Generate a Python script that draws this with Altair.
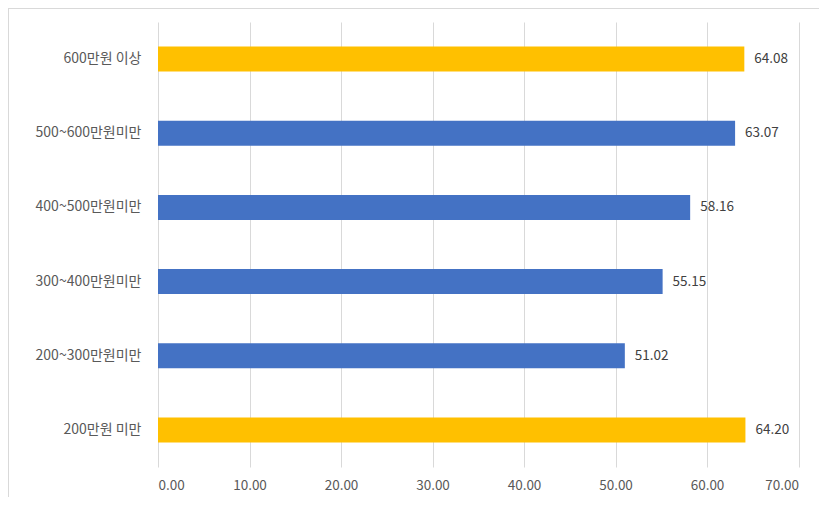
import altair as alt
import pandas as pd

categories = ["600만원 이상", "500~600만원미만", "400~500만원미만", "300~400만원미만", "200~300만원미만", "200만원 미만"]
values = [64.08, 63.07, 58.16, 55.15, 51.02, 64.20]
groups = ["edge", "mid", "mid", "mid", "mid", "edge"]

df = pd.DataFrame({"cat": categories, "val": values, "grp": groups})

FONT = "Noto Sans CJK KR"

y_scale = alt.Scale(domain=categories, paddingInner=0.66, paddingOuter=0.33)
x_scale = alt.Scale(domain=[0, 70], nice=False)

y_enc = alt.Y("cat:N", sort=categories, title=None, scale=y_scale,
              axis=alt.Axis(domain=False, ticks=False, labelPadding=17,
                            labelFont=FONT, labelFontSize=14, labelColor="#595959", grid=False))
x_enc = alt.X("val:Q", title=None, scale=x_scale,
              axis=alt.Axis(values=[0, 10, 20, 30, 40, 50, 60, 70], format=".2f",
                            domain=False, ticks=False, labelPadding=11,
                            labelFont=FONT, labelFontSize=13.5, labelColor="#595959",
                            grid=True, gridColor="#D9D9D9", gridWidth=1))

bars = alt.Chart(df).mark_bar(size=25).encode(
    x=x_enc, y=y_enc,
    color=alt.Color("grp:N", scale=alt.Scale(domain=["edge", "mid"], range=["#FFC000", "#4472C4"]), legend=None),
)

labels = alt.Chart(df).mark_text(align="left", dx=10, font=FONT, fontSize=13.5, color="#404040").encode(
    x=alt.X("val:Q", scale=x_scale, title=None),
    y=alt.Y("cat:N", sort=categories, scale=y_scale, title=None),
    text=alt.Text("val:Q", format=".2f"),
)

border_top = alt.Chart(df).mark_rule(color="#D9D9D9", strokeWidth=1).encode(
    x=alt.value(-150), x2=alt.value(662), y=alt.value(-13.5)
)
border_left = alt.Chart(df).mark_rule(color="#D9D9D9", strokeWidth=1).encode(
    x=alt.value(-149.5), y=alt.value(-14), y2=alt.value(480)
)

chart = alt.layer(bars, labels, border_top, border_left).properties(
    width=640.5, height=445,
    autosize=alt.AutoSizeParams(type="none"),
    padding={"left": 150, "top": 14, "right": 20, "bottom": 30},
).configure(background="white").configure_view(stroke=None).configure_axis(domain=False, ticks=False)

chart.save("out.html", embed_options={"renderer": "svg", "actions": False})
